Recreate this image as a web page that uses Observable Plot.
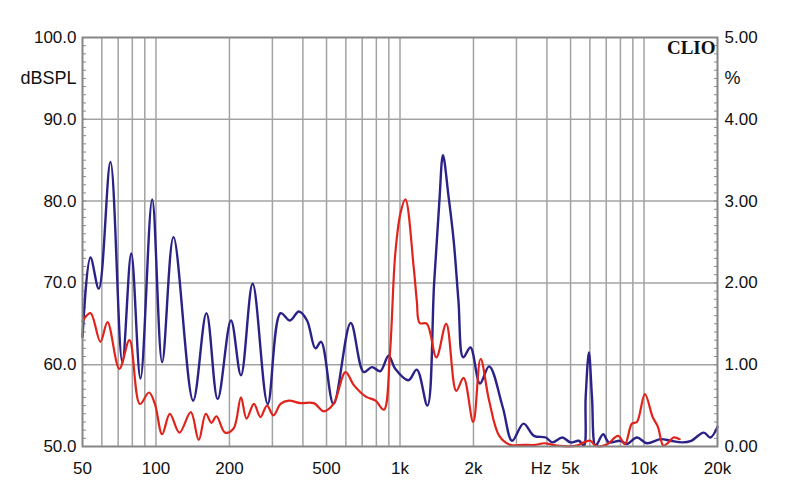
<!DOCTYPE html>
<html><head><meta charset="utf-8">
<script src="https://cdn.jsdelivr.net/npm/d3@7"></script>
<script src="https://cdn.jsdelivr.net/npm/@observablehq/plot@0.6"></script>
<style>body{margin:0;background:#fff} #chart{width:800px;height:504px}</style>
</head><body><div id="chart"></div>
<script>
// Blue trace (Hz, dBSPL)
const blueFreq = [50, 53.9, 58.3, 65.1, 72.8, 79.2, 86.4, 96.5, 106, 118, 142, 161, 179, 203, 223, 249, 287, 324, 354, 385, 416, 450, 475, 534, 628, 710, 768, 830, 898, 956, 1083, 1172, 1295, 1380, 1450, 1500, 1582, 1659, 1736, 1815, 1944, 2126, 2319, 2637, 2880, 3207, 3539, 3955, 4214, 4623, 5000, 5410, 5670, 5765, 5945, 6120, 6330, 6800, 7170, 8000, 8500, 9350, 10270, 11730, 12870, 14340, 15620, 17560, 18700, 20000];
const blueDb = [63.4, 73.1, 69.3, 84.8, 60.3, 73.6, 58.3, 80.2, 60.3, 75.6, 55.6, 66.3, 55.8, 65.4, 58.7, 69.9, 55.2, 66.3, 65.4, 66.5, 65.4, 62.0, 62.8, 55.2, 65.1, 59.1, 59.7, 59.2, 61.1, 59.5, 58.1, 59.4, 55.0, 70.0, 80.0, 85.6, 80.5, 75.2, 67.8, 60.9, 62.1, 57.7, 59.8, 54.8, 50.7, 52.8, 51.3, 51.1, 50.5, 51.1, 50.5, 50.7, 50.1, 56.0, 61.5, 56.0, 50.1, 51.5, 50.5, 50.7, 50.3, 51.1, 50.4, 50.9, 50.7, 50.5, 50.7, 51.7, 51.1, 52.4];
// Red trace (Hz, dBSPL)
const redFreq = [50, 53.9, 59.2, 63.3, 70.8, 77.9, 85.9, 93.7, 99, 106, 114, 124.8, 138.9, 149.7, 160, 168.8, 177, 192, 208, 223, 235, 252, 268, 285, 303, 324, 350, 391, 443, 488, 534, 598, 647, 724, 794, 859, 909, 956, 1004, 1052, 1138, 1172, 1204, 1289, 1409, 1547, 1700, 1822, 1995, 2139, 2319, 2551, 2830, 3200, 3600, 3900, 4400, 5300, 5670, 6030, 6330, 7000, 7830, 8350, 8920, 9350, 10080, 10850, 11400, 12000, 12600, 13200, 14000];
const redDb = [65.3, 66.3, 62.8, 65.2, 59.5, 63.0, 55.2, 56.6, 55.2, 51.5, 54.0, 51.7, 54.2, 50.8, 54.0, 52.9, 53.7, 51.7, 52.2, 56.0, 53.4, 55.2, 53.6, 55.0, 53.8, 55.2, 55.6, 55.3, 55.3, 54.3, 55.2, 59.1, 57.5, 56.1, 55.6, 54.5, 61.3, 73.5, 78.5, 80.2, 71.9, 67.8, 65.1, 65.0, 60.9, 65.0, 56.8, 58.4, 53.0, 60.7, 55.6, 51.3, 50.2, 50.2, 50.2, 50.4, 50.1, 50.1, 50.5, 50.7, 50.1, 50.2, 51.3, 50.3, 52.8, 53.0, 56.4, 53.6, 52.4, 50.1, 50.5, 51.1, 50.9];

const xTicks = [50, 100, 200, 500, 1000, 2000, 5000, 10000, 20000];
const xTickLabels = ["50", "100", "200", "500", "1k", "2k", "5k", "10k", "20k"];
const xGrid = [60, 70, 80, 90, 100, 200, 300, 400, 500, 600, 700, 800, 900, 1000, 2000, 3000, 4000, 5000, 6000, 7000, 8000, 9000, 10000];
const yTicks = [50, 60, 70, 80, 90, 100];
const yTickLabels = ["50.0", "60.0", "70.0", "80.0", "90.0", "100.0"];
const pctLabels = ["0.00", "1.00", "2.00", "3.00", "4.00", "5.00"];
const yGrid = [60, 70, 80, 90];
const yMinor = d3.range(51, 100);

const blue = blueFreq.map((f, i) => ({f, v: blueDb[i]}));
const red = redFreq.map((f, i) => ({f, v: redDb[i]}));
const xLab = xTicks.map((f, i) => ({f, t: xTickLabels[i]}));

const chart = Plot.plot({
  width: 800, height: 504,
  marginLeft: 82, marginRight: 83, marginTop: 37, marginBottom: 58,
  x: {type: "log", domain: [50, 20000], axis: null},
  y: {domain: [50, 100], axis: null},
  style: {fontFamily: "'Liberation Sans', Arial, sans-serif", fontSize: "17px", background: "white", color: "#111"},
  marks: [
    Plot.ruleX(xGrid, {stroke: "#a3a3a3", strokeWidth: 1.5}),
    Plot.ruleY(yGrid, {stroke: "#a3a3a3", strokeWidth: 1.5}),
    Plot.axisY({anchor: "left", ticks: yMinor, tickSize: 4, dx: 4, text: null, label: null, stroke: "#8a8a8a"}),
    Plot.axisY({anchor: "right", ticks: yMinor, tickSize: 4, dx: -4, text: null, label: null, stroke: "#8a8a8a"}),
    Plot.axisY({anchor: "left", ticks: yTicks, tickSize: 0, tickPadding: 6, label: null,
      tickFormat: d => yTickLabels[yTicks.indexOf(d)]}),
    Plot.axisY({anchor: "right", ticks: yTicks, tickSize: 0, tickPadding: 7, label: null,
      tickFormat: d => pctLabels[yTicks.indexOf(d)]}),
    Plot.text(xLab, {x: "f", text: "t", frameAnchor: "bottom", lineAnchor: "top", dy: 15, fill: "#111"}),
    Plot.line(blue, {x: "f", y: "v", stroke: "#2b2288", strokeWidth: 2.4, curve: "catmull-rom"}),
    Plot.line(red, {x: "f", y: "v", stroke: "#e0241c", strokeWidth: 2.2, curve: "catmull-rom"}),
    Plot.frame({stroke: "#858585", strokeWidth: 2}),
    Plot.text([{t: "dBSPL", v: 95}], {text: "t", y: "v", frameAnchor: "left", dx: -6, textAnchor: "end", fontSize: 18, fill: "#111"}),
    Plot.text([{t: "%", v: 95}], {text: "t", y: "v", frameAnchor: "right", dx: 7, textAnchor: "start", fontSize: 18, fill: "#111"}),
    Plot.text([{t: "Hz", f: 5000}], {text: "t", x: "f", frameAnchor: "bottom", lineAnchor: "top", dy: 15, dx: -19, textAnchor: "end", fill: "#111"}),
    Plot.text(["CLIO"], {frameAnchor: "top-right", dx: -2, dy: 10, lineAnchor: "middle", textAnchor: "end",
      fontFamily: "'Liberation Serif', 'DejaVu Serif', serif", fontWeight: "bold", fontSize: 19, fill: "#111"})
  ]
});
document.getElementById("chart").appendChild(chart);
</script>
</body></html>
